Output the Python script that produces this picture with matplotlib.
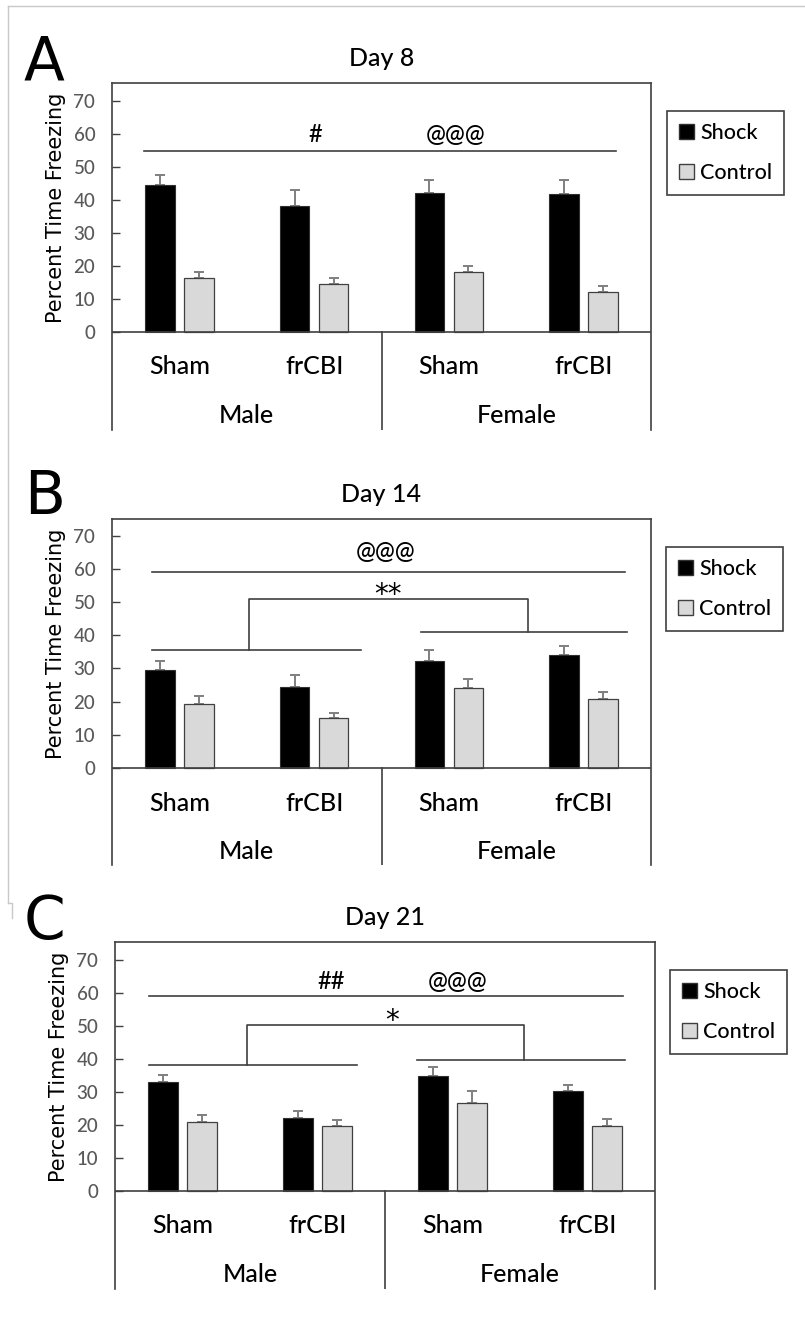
import matplotlib
matplotlib.use('Agg')
import matplotlib.pyplot as plt
from matplotlib.patches import Patch
from matplotlib.lines import Line2D

# group labels
treatments = ['Sham', 'frCBI', 'Sham', 'frCBI']
sexes = ['Male', 'Female']
days = ['Day 8', 'Day 14', 'Day 21']
letters = ['A', 'B', 'C']

# percent time freezing (mean) and SEM, order: Male Sham, Male frCBI, Female Sham, Female frCBI
shock_d8 = [44.5, 38.3, 42.2, 41.9]
shock_d8_err = [3.2, 4.7, 3.8, 4.1]
ctrl_d8 = [16.3, 14.7, 18.1, 12.0]
ctrl_d8_err = [1.8, 1.6, 2.0, 2.0]

shock_d14 = [29.5, 24.5, 32.2, 34.0]
shock_d14_err = [2.7, 3.4, 3.3, 2.8]
ctrl_d14 = [19.4, 15.2, 24.1, 20.9]
ctrl_d14_err = [2.3, 1.4, 2.6, 2.0]

shock_d21 = [33.0, 22.0, 34.8, 30.3]
shock_d21_err = [2.3, 2.4, 2.8, 1.8]
ctrl_d21 = [20.9, 19.6, 26.6, 19.6]
ctrl_d21_err = [2.0, 1.8, 3.6, 2.1]

W, H = 805, 1323
FONT = ['Lato', 'DejaVu Sans']
WT = 'medium'
EDGE = '#404040'
ERR = '#7f7f7f'


def fx(px):
    return px / W


def fy(py):
    return 1 - py / H


fig = plt.figure(figsize=(W / 100, H / 100), dpi=100)

# faint page border
fig.add_artist(Line2D([fx(8), fx(805)], [fy(6), fy(6)], color='#c8c8c8', lw=1))
fig.add_artist(Line2D([fx(8), fx(8)], [fy(6), fy(903)], color='#c8c8c8', lw=1))
fig.add_artist(Line2D([fx(8), fx(12), fx(12)], [fy(903), fy(903), fy(918)], color='#c8c8c8', lw=1))

# panel frames in pixels: left, right, top, bottom, ylim, legend corner
panels = [
    (112, 651, 83, 430, (-29.7, 75.5), (667, 111)),
    (112, 651, 519, 865, (-29.3, 75.1), (666, 547)),
    (115, 655, 942, 1289, (-29.7, 75.5), (670, 970)),
]
shock = [shock_d8, shock_d14, shock_d21]
shock_err = [shock_d8_err, shock_d14_err, shock_d21_err]
ctrl = [ctrl_d8, ctrl_d14, ctrl_d21]
ctrl_err = [ctrl_d8_err, ctrl_d14_err, ctrl_d21_err]

x = list(range(len(treatments)))
bw = 0.22
off = 0.145

for i, (l, r, t, b, ylim, leg) in enumerate(panels):
    ax = fig.add_axes([fx(l), fy(b), fx(r) - fx(l), fy(t) - fy(b)])
    ax.set_xlim(-0.5, 3.5)
    ax.set_ylim(*ylim)

    xs = [v - off for v in x]
    xc = [v + off for v in x]
    ax.bar(xs, shock[i], bw, color='black', edgecolor='#303030', lw=0.8, zorder=3)
    ax.bar(xc, ctrl[i], bw, color='#d9d9d9', edgecolor=EDGE, lw=0.9, zorder=3)
    ax.errorbar(xs, shock[i], yerr=[[0] * 4, shock_err[i]], fmt='none',
                ecolor=ERR, elinewidth=1.4, capsize=3.3, capthick=1.4, zorder=2)
    ax.errorbar(xc, ctrl[i], yerr=[[0] * 4, ctrl_err[i]], fmt='none',
                ecolor=ERR, elinewidth=1.4, capsize=3.3, capthick=1.4, zorder=2)

    # frame and category box
    for s in ['left', 'right', 'top']:
        ax.spines[s].set_color(EDGE)
        ax.spines[s].set_linewidth(1.2)
    ax.spines['bottom'].set_visible(False)
    ax.axhline(0, color=EDGE, lw=1.2, zorder=4)
    ax.plot([1.5, 1.5], [ylim[0], 0], color=EDGE, lw=1.2)

    ax.set_xticks([])
    ax.set_yticks(range(0, 71, 10))
    ax.tick_params(axis='y', direction='in', length=6, width=1, color=EDGE,
                   labelcolor='#595959', labelsize=13.5, pad=12)
    for lab in ax.get_yticklabels():
        lab.set_family(FONT)
        lab.set_weight(WT)

    ax.set_ylabel('Percent Time Freezing', fontsize=15, family='DejaVu Sans')
    ax.yaxis.set_label_coords(-0.086, 0.64)

    for k, name in enumerate(treatments):
        ax.text(k, -10.6, name, ha='center', va='center', fontsize=18, family=FONT, weight=WT)
    for k, name in enumerate(sexes):
        ax.text(0.5 + 2 * k, -25.2, name, ha='center', va='center', fontsize=18, family=FONT, weight=WT)

    ax.set_title(days[i], fontsize=18, family=FONT, weight=WT, pad=12)
    fig.text(fx(24), fy([80, 514, 939][i]), letters[i], fontsize=43,
             family='DejaVu Sans', va='baseline', ha='left')

    # significance annotations
    lk = dict(color=EDGE, lw=1.2)
    tk = dict(ha='center', va='center', fontsize=17, family=FONT, weight=WT)
    sk = dict(ha='center', va='center', fontsize=20, family='DejaVu Sans')
    if i == 0:
        ax.plot([-0.26, 3.24], [55, 55], **lk)
        ax.text(1.01, 60, '#', **tk)
        ax.text(2.05, 60, '@@@', **tk)
    elif i == 1:
        ax.plot([-0.20, 3.31], [59.1, 59.1], **lk)
        ax.text(1.53, 65.3, '@@@', **tk)
        ax.plot([-0.20, 1.35], [35.5, 35.5], **lk)
        ax.plot([1.79, 3.32], [41.0, 41.0], **lk)
        ax.plot([0.52, 0.52, 2.59, 2.59], [35.5, 51.0, 51.0, 41.0], **lk)
        ax.text(1.55, 52.3, '**', **sk)
    else:
        ax.plot([-0.25, 3.26], [59.1, 59.1], **lk)
        ax.text(1.10, 63.5, '##', **tk)
        ax.text(2.04, 63.5, '@@@', **tk)
        ax.plot([-0.25, 1.29], [38.3, 38.3], **lk)
        ax.plot([1.74, 3.28], [39.8, 39.8], **lk)
        ax.plot([0.48, 0.48, 2.53, 2.53], [38.3, 50.3, 50.3, 39.8], **lk)
        ax.text(1.55, 51.5, '*', **sk)

    handles = [Patch(facecolor='black', edgecolor='#303030', label='Shock'),
               Patch(facecolor='#d9d9d9', edgecolor=EDGE, label='Control')]
    lg = fig.legend(handles=handles, loc='upper left', bbox_to_anchor=(fx(leg[0]), fy(leg[1])),
                    borderaxespad=0, fancybox=False, edgecolor=EDGE, framealpha=1,
                    handlelength=0.7, handleheight=0.7, handletextpad=0.3,
                    labelspacing=0.95, borderpad=0.55,
                    prop={'family': FONT, 'size': 15.5, 'weight': WT})
    lg.get_frame().set_linewidth(1.2)

fig.savefig('out.png', dpi=100)
